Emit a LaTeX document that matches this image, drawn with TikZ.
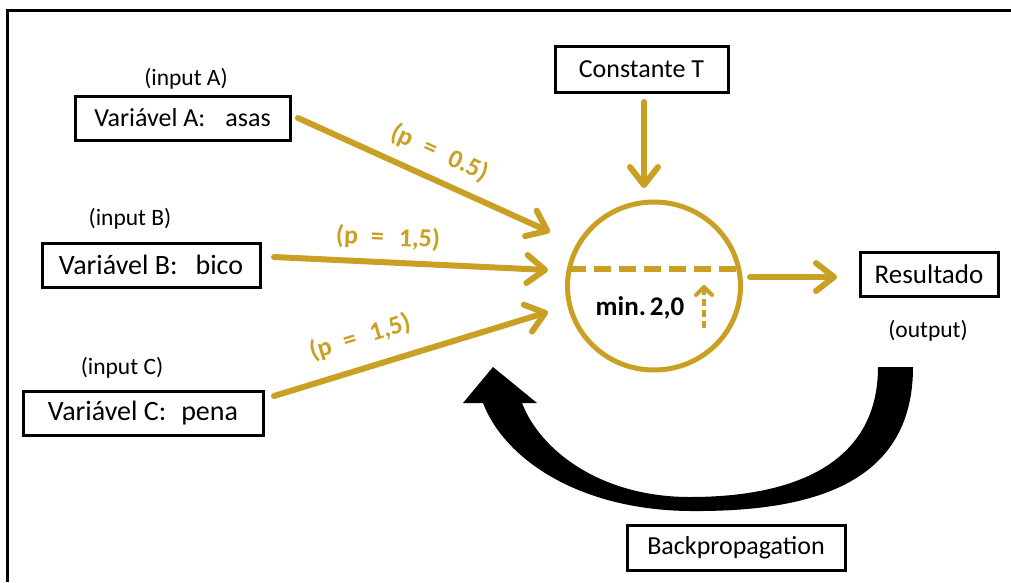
\documentclass[tikz,border=0pt]{standalone}
\usepackage{fontspec}
\setmainfont{Carlito}
\usetikzlibrary{arrows.meta,shapes.geometric}
\definecolor{gold}{RGB}{201,160,36}
\begin{document}
\begin{tikzpicture}[x=1pt,y=-1pt,
  box/.style={draw=black,line width=3pt,inner sep=0pt,text=black},
  lbl/.style={font=\fontsize{23.5}{27}\selectfont,inner sep=0pt,text=black},
  garrow/.style={draw=gold,line width=6pt,line cap=round,-{Straight Barb[length=18pt,width=28pt,round]}},
  plabel/.style={text=gold,font=\bfseries\fontsize{26}{30}\selectfont,inner sep=0pt}]
\useasboundingbox (0,0) rectangle (1011,582);
% frame
\coordinate (fbl) at (7,582);
\coordinate (ftl) at (7,10);
\coordinate (ftr) at (1011,10);
\draw[line width=3pt] (fbl) -- (ftl) -- (ftr);
% boxes
\node[box,minimum width=215pt,minimum height=44pt,font=\fontsize{26}{30}\selectfont] (boxA) at (182.5,118) {Variável A:\hspace{20pt}asas\hspace{9pt}};
\node[box,minimum width=218pt,minimum height=44pt,font=\fontsize{28}{32}\selectfont] (boxB) at (151,265) {Variável B:\hspace{18pt}bico\hspace{8pt}};
\node[box,minimum width=240pt,minimum height=44pt,font=\fontsize{28}{32}\selectfont] (boxC) at (143,413) {Variável C:\hspace{15pt}pena\hspace{19pt}};
\node[box,minimum width=173pt,minimum height=46pt,font=\fontsize{26}{30}\selectfont] (boxT) at (641.5,69) {Constante T\hspace{22pt}};
\node[box,minimum width=138pt,minimum height=44pt,font=\fontsize{27}{31}\selectfont] (boxR) at (929,274) {Resultado\hspace{5pt}};
\node[box,minimum width=218pt,minimum height=45pt,font=\fontsize{26}{30}\selectfont] (boxBP) at (736,547.5) {Backpropagation\hspace{13pt}};
% small labels
\node[lbl] (inA) at (186,79) {(input A)};
\node[lbl] (inB) at (130,219) {(input B)};
\node[lbl] (inC) at (122,368) {(input C)};
\node[lbl] (outR) at (928,331) {(output)};
% neuron
\node[draw=gold,line width=5pt,ellipse,minimum width=173pt,minimum height=168pt,inner sep=0pt] (neuron) at (654,286) {};
\coordinate (dl) at (569,269);
\coordinate (dr) at (739,269);
\draw[gold,line width=6pt,dash pattern=on 17pt off 8pt] (dl) -- (dr);
\coordinate (ts) at (704,328);
\coordinate (te) at (704,285);
\draw[gold,line width=4pt,dash pattern=on 7pt off 4pt,-{Straight Barb[length=8pt,width=16pt,round]}] (ts) -- (te);
\node[text=black,font=\bfseries\fontsize{27}{31}\selectfont,inner sep=0pt] (thr) at (640,308) {min.\hspace{4pt}2,0};
% arrows
\coordinate (aS) at (298,118); \coordinate (aE) at (550,232);
\coordinate (bS) at (274,257); \coordinate (bE) at (548,270);
\coordinate (cS) at (274,396); \coordinate (cE) at (548,312);
\coordinate (tS) at (644,102); \coordinate (tE) at (644,188);
\coordinate (oS) at (750,277); \coordinate (oE) at (837,277);
\draw[garrow] (aS) -- (aE);
\draw[garrow] (bS) -- (bE);
\draw[garrow] (cS) -- (cE);
\draw[garrow] (tS) -- (tE);
\draw[garrow] (oS) -- (oE);
\node[plabel,rotate=-24.5] (pA) at (440,153) {(p\hspace{13pt}=\hspace{15pt}0.5)};
\node[plabel,rotate=-2.5] (pB) at (388,238) {(p\hspace{13pt}=\hspace{15pt}1,5)};
\node[plabel,rotate=17] (pC) at (360,337) {(p\hspace{13pt}=\hspace{15pt}1,5)};
% backpropagation arrow
\fill[black] (913,367) .. controls (913,485) and (810,512) .. (690,511)
  .. controls (580,510) and (505,460) .. (483,403)
  -- (463,403) -- (493,367) -- (537,403) -- (522,403)
  .. controls (540,450) and (600,497) .. (690,497)
  .. controls (800,497) and (878,460) .. (878,367) -- cycle;
\end{tikzpicture}
\end{document}
